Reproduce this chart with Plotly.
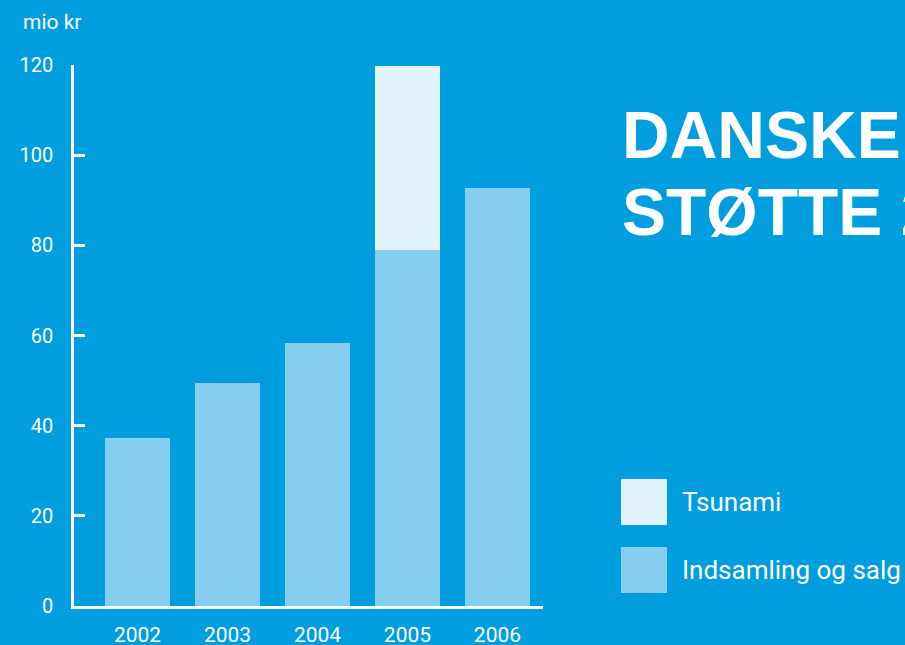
import plotly.graph_objects as go

years = ["2002", "2003", "2004", "2005", "2006"]
indsamling = [37.3, 49.5, 58.3, 79.0, 92.7]
tsunami = [0, 0, 0, 40.8, 0]
y_ticks = [0, 20, 40, 60, 80, 100, 120]

BG = "#009DDF"
C_IND = "#86CEEF"
C_TSU = "#E0F2FC"
FONT = "Roboto"

fig = go.Figure()
fig.add_bar(x=years, y=indsamling, name="Indsamling og salg", marker_color=C_IND,
            marker_line_width=0, width=0.72)
fig.add_bar(x=years, y=tsunami, name="Tsunami", marker_color=C_TSU,
            marker_line_width=0, width=0.72)

fig.update_layout(
    barmode="stack",
    width=905, height=645, autosize=False,
    margin=dict(l=74, r=362, t=65, b=39),
    paper_bgcolor=BG, plot_bgcolor=BG,
    showlegend=False,
    font=dict(family=FONT, color="white", size=20),
)
fig.update_xaxes(
    type="category", range=[-0.706, 4.506], automargin=False,
    showline=True, linecolor="white", linewidth=2.5,
    ticks="", showgrid=False, zeroline=False,
    tickfont=dict(size=21, color="white", family=FONT),
    ticklabelstandoff=8,
)
fig.update_yaxes(
    range=[0, 120], tickvals=y_ticks, automargin=False,
    showline=True, linecolor="white", linewidth=2.5,
    ticks="inside", ticklen=11, tickwidth=2.5, tickcolor="white",
    showgrid=False, zeroline=False,
    tickfont=dict(size=20, color="white", family=FONT),
    ticklabelstandoff=14,
)

# unit label
fig.add_annotation(text="mio kr", xref="paper", yref="paper", x=-0.112, y=1.0795,
                   xanchor="left", yanchor="middle", showarrow=False,
                   font=dict(size=21, color="white", family=FONT))

# title (clipped at right edge as in the reference)
fig.add_annotation(text="DANSKERNES", xref="paper", yref="paper", x=1.165, y=0.8715,
                   xanchor="left", yanchor="middle", showarrow=False,
                   font=dict(size=66, color="white", family="Liberation Sans", weight="bold"))
fig.add_annotation(text="STØTTE 2002-2006", xref="paper", yref="paper", x=1.165, y=0.728,
                   xanchor="left", yanchor="middle", showarrow=False,
                   font=dict(size=66, color="white", family="Liberation Sans", weight="bold"))

# legend
legend_items = [("Tsunami", C_TSU, 0.2348, 0.1497), ("Indsamling og salg", C_IND, 0.1091, 0.0240)]
for label, color, y1, y0 in legend_items:
    fig.add_shape(type="rect", xref="paper", yref="paper", x0=1.1663, x1=1.2644,
                  y0=y0, y1=y1, fillcolor=color, line_width=0)
    fig.add_annotation(text=label, xref="paper", yref="paper", x=1.2921, y=(y0 + y1) / 2,
                       xanchor="left", yanchor="middle", showarrow=False,
                       font=dict(size=26, color="white", family=FONT))

post = (
    "document.body.style.margin='0';"
    "document.body.style.overflow='hidden';"
    "document.body.style.background='" + BG + "';"
)

fig.write_html(
    "out.html",
    config={"displayModeBar": False, "responsive": False},
    post_script=post,
)
